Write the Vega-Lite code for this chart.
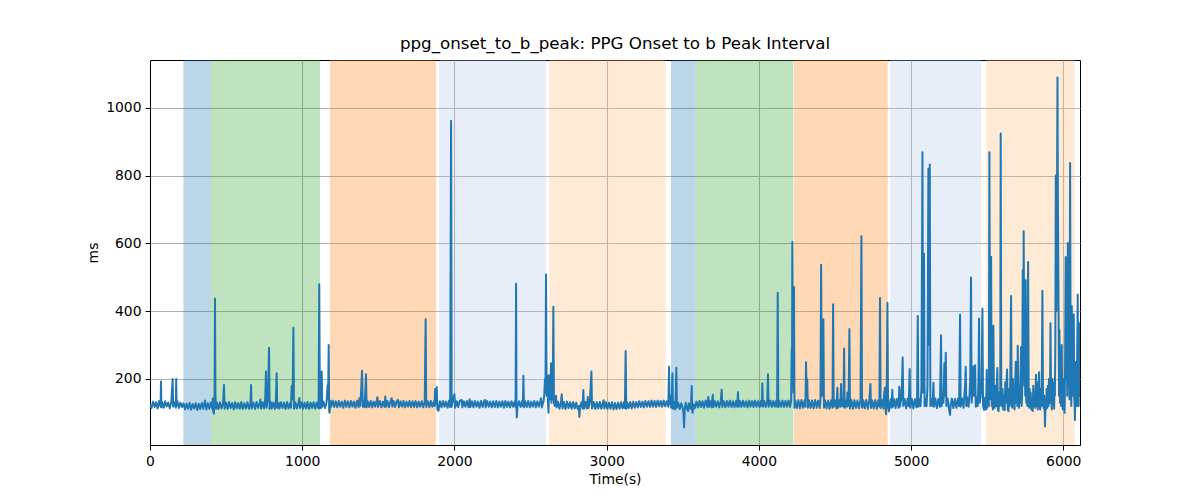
{
 "$schema": "https://vega.github.io/schema/vega-lite/v6.json",
 "width": 930,
 "height": 385,
 "autosize": {"type": "none"},
 "padding": {"left": 150, "top": 60, "right": 120, "bottom": 55},
 "title": {"text": "ppg_onset_to_b_peak: PPG Onset to b Peak Interval", "font": "DejaVu Sans", "fontSize": 16.7, "fontWeight": "normal", "color": "black", "anchor": "middle", "offset": 7},
 "config": {
  "view": {"stroke": "black", "strokeWidth": 1},
  "axis": {"domainColor": "black", "domainWidth": 1, "tickColor": "black", "tickSize": 5, "tickWidth": 1, "labelFont": "DejaVu Sans", "labelFontSize": 13.9, "labelColor": "black", "titleFont": "DejaVu Sans", "titleFontSize": 13.9, "titleFontWeight": "normal", "titleColor": "black", "gridColor": "#b0b0b0", "gridWidth": 1.1, "labelPadding": 4, "titlePadding": 5, "labelFlush": false}
 },
 "datasets": {
  "bands": [
   {"start": 219, "end": 401, "phase": "P1"},
   {"start": 401, "end": 1117, "phase": "P2"},
   {"start": 1183, "end": 1879, "phase": "P3"},
   {"start": 1899, "end": 2602, "phase": "P4"},
   {"start": 2622, "end": 3388, "phase": "P5"},
   {"start": 3423, "end": 3585, "phase": "P1"},
   {"start": 3585, "end": 4227, "phase": "P2"},
   {"start": 4231, "end": 4847, "phase": "P3"},
   {"start": 4862, "end": 5460, "phase": "P4"},
   {"start": 5493, "end": 6076, "phase": "P5"}
  ],
  "series": [
{"t":0,"v":126},{"t":10,"v":114},{"t":20,"v":133},{"t":30,"v":117},{"t":40,"v":131},{"t":50,"v":113},{"t":60,"v":135},{"t":70,"v":118},{"t":72,"v":192},{"t":75,"v":116},{"t":80,"v":132},{"t":90,"v":115},{"t":100,"v":134},{"t":110,"v":119},{"t":120,"v":130},{"t":130,"v":113},{"t":140,"v":133},{"t":149,"v":200},{"t":152,"v":118},{"t":160,"v":131},{"t":170,"v":115},{"t":172,"v":200},{"t":175,"v":121},{"t":180,"v":134},{"t":190,"v":114},{"t":200,"v":130},{"t":210,"v":117},
{"t":220,"v":128},{"t":230,"v":110},{"t":240,"v":127},{"t":250,"v":112},{"t":260,"v":129},{"t":270,"v":109},{"t":280,"v":126},{"t":290,"v":113},{"t":300,"v":128},{"t":310,"v":108},{"t":320,"v":127},{"t":330,"v":111},{"t":340,"v":129},{"t":350,"v":112},{"t":361,"v":136},{"t":370,"v":110},{"t":380,"v":128},{"t":390,"v":112},{"t":400,"v":130},
{"t":410,"v":111},{"t":412,"v":142},{"t":415,"v":105},{"t":420,"v":97},{"t":424,"v":150},{"t":427,"v":437},{"t":430,"v":150},{"t":435,"v":112},{"t":440,"v":130},{"t":450,"v":111},{"t":460,"v":131},{"t":470,"v":113},{"t":480,"v":128},{"t":486,"v":182},{"t":490,"v":112},{"t":500,"v":130},{"t":510,"v":111},{"t":520,"v":132},{"t":530,"v":114},{"t":540,"v":129},{"t":550,"v":110},{"t":560,"v":131},{"t":570,"v":113},{"t":580,"v":129},{"t":590,"v":112},{"t":600,"v":132},{"t":610,"v":111},{"t":620,"v":128},{"t":630,"v":113},{"t":640,"v":131},{"t":650,"v":112},{"t":660,"v":129},{"t":664,"v":182},{"t":668,"v":113},{"t":680,"v":130},{"t":690,"v":111},{"t":700,"v":132},{"t":710,"v":114},{"t":720,"v":129},{"t":725,"v":139},{"t":730,"v":112},{"t":740,"v":131},{"t":750,"v":113},{"t":757,"v":140},{"t":762,"v":222},{"t":766,"v":115},{"t":770,"v":130},{"t":775,"v":140},{"t":782,"v":292},{"t":786,"v":112},{"t":795,"v":131},{"t":800,"v":113},{"t":810,"v":130},{"t":820,"v":111},{"t":827,"v":135},{"t":832,"v":217},{"t":836,"v":114},{"t":845,"v":129},{"t":850,"v":112},{"t":860,"v":131},{"t":870,"v":114},{"t":880,"v":130},{"t":890,"v":111},{"t":900,"v":132},{"t":910,"v":113},{"t":920,"v":129},{"t":926,"v":115},{"t":931,"v":180},{"t":937,"v":140},{"t":942,"v":351},{"t":946,"v":112},{"t":955,"v":131},{"t":965,"v":113},{"t":975,"v":129},{"t":981,"v":144},{"t":985,"v":114},{"t":995,"v":131},{"t":1005,"v":112},{"t":1015,"v":130},{"t":1025,"v":113},{"t":1035,"v":132},{"t":1045,"v":111},{"t":1055,"v":130},{"t":1065,"v":114},{"t":1075,"v":131},{"t":1085,"v":112},{"t":1095,"v":130},{"t":1105,"v":114},{"t":1108,"v":140},{"t":1112,"v":479},{"t":1116,"v":113},{"t":1120,"v":130},{"t":1125,"v":115},{"t":1128,"v":222},{"t":1132,"v":118},
{"t":1140,"v":133},{"t":1150,"v":114},{"t":1160,"v":131},{"t":1164,"v":160},{"t":1167,"v":182},{"t":1170,"v":140},{"t":1174,"v":300},{"t":1177,"v":105},{"t":1180,"v":100},{"t":1185,"v":135},{"t":1190,"v":118},{"t":1200,"v":136},{"t":1210,"v":117},{"t":1220,"v":134},{"t":1230,"v":116},{"t":1240,"v":135},{"t":1250,"v":118},{"t":1260,"v":133},{"t":1270,"v":115},{"t":1280,"v":136},{"t":1290,"v":117},{"t":1300,"v":134},{"t":1310,"v":116},{"t":1320,"v":135},{"t":1330,"v":118},{"t":1340,"v":133},{"t":1350,"v":115},{"t":1360,"v":136},{"t":1370,"v":117},{"t":1376,"v":143},{"t":1380,"v":120},{"t":1385,"v":145},{"t":1393,"v":224},{"t":1398,"v":118},{"t":1405,"v":133},{"t":1410,"v":117},{"t":1419,"v":214},{"t":1423,"v":116},{"t":1430,"v":134},{"t":1440,"v":117},{"t":1450,"v":135},{"t":1460,"v":116},{"t":1470,"v":133},{"t":1480,"v":118},{"t":1494,"v":146},{"t":1498,"v":117},{"t":1510,"v":135},{"t":1520,"v":116},{"t":1530,"v":133},{"t":1540,"v":118},{"t":1546,"v":148},{"t":1550,"v":117},{"t":1560,"v":135},{"t":1570,"v":116},{"t":1580,"v":134},{"t":1588,"v":143},{"t":1592,"v":118},{"t":1600,"v":135},{"t":1610,"v":117},{"t":1620,"v":133},{"t":1628,"v":138},{"t":1635,"v":116},{"t":1645,"v":134},{"t":1655,"v":118},{"t":1665,"v":135},{"t":1675,"v":116},{"t":1685,"v":133},{"t":1695,"v":118},{"t":1705,"v":135},{"t":1715,"v":116},{"t":1725,"v":134},{"t":1735,"v":117},{"t":1745,"v":135},{"t":1755,"v":116},{"t":1765,"v":133},{"t":1775,"v":118},{"t":1785,"v":134},{"t":1795,"v":116},{"t":1805,"v":133},{"t":1811,"v":376},{"t":1815,"v":117},{"t":1825,"v":134},{"t":1835,"v":116},{"t":1845,"v":135},{"t":1855,"v":118},{"t":1865,"v":133},{"t":1870,"v":120},{"t":1873,"v":170},{"t":1877,"v":125},{"t":1884,"v":176},{"t":1888,"v":110},{"t":1895,"v":106},
{"t":1905,"v":134},{"t":1915,"v":116},{"t":1925,"v":135},{"t":1935,"v":118},{"t":1945,"v":133},{"t":1955,"v":115},{"t":1965,"v":136},{"t":1972,"v":117},{"t":1978,"v":962},{"t":1982,"v":118},{"t":1990,"v":136},{"t":2000,"v":155},{"t":2005,"v":115},{"t":2015,"v":134},{"t":2025,"v":117},{"t":2035,"v":135},{"t":2047,"v":138},{"t":2052,"v":116},{"t":2062,"v":134},{"t":2072,"v":118},{"t":2082,"v":135},{"t":2092,"v":116},{"t":2100,"v":140},{"t":2105,"v":117},{"t":2115,"v":134},{"t":2125,"v":116},{"t":2135,"v":135},{"t":2145,"v":118},{"t":2155,"v":133},{"t":2165,"v":115},{"t":2175,"v":135},{"t":2185,"v":117},{"t":2195,"v":134},{"t":2200,"v":138},{"t":2205,"v":116},{"t":2215,"v":135},{"t":2225,"v":118},{"t":2235,"v":133},{"t":2245,"v":116},{"t":2255,"v":134},{"t":2265,"v":117},{"t":2275,"v":135},{"t":2285,"v":116},{"t":2295,"v":133},{"t":2305,"v":118},{"t":2315,"v":134},{"t":2325,"v":115},{"t":2335,"v":135},{"t":2345,"v":117},{"t":2355,"v":133},{"t":2365,"v":116},{"t":2375,"v":134},{"t":2385,"v":118},{"t":2395,"v":133},{"t":2402,"v":116},{"t":2405,"v":481},{"t":2408,"v":120},{"t":2410,"v":86},{"t":2414,"v":118},{"t":2425,"v":134},{"t":2435,"v":117},{"t":2445,"v":135},{"t":2450,"v":120},{"t":2453,"v":209},{"t":2457,"v":116},{"t":2465,"v":134},{"t":2475,"v":117},{"t":2485,"v":135},{"t":2495,"v":116},{"t":2505,"v":133},{"t":2515,"v":118},{"t":2525,"v":135},{"t":2535,"v":116},{"t":2545,"v":134},{"t":2555,"v":118},{"t":2565,"v":135},{"t":2569,"v":143},{"t":2575,"v":116},{"t":2585,"v":134},{"t":2590,"v":150},{"t":2595,"v":200},{"t":2598,"v":160},{"t":2602,"v":508},{"t":2606,"v":150},{"t":2611,"v":211},{"t":2615,"v":130},{"t":2618,"v":100},{"t":2621,"v":150},{"t":2624,"v":211},{"t":2628,"v":140},{"t":2632,"v":180},{"t":2635,"v":246},{"t":2638,"v":130},{"t":2642,"v":180},{"t":2646,"v":140},{"t":2650,"v":413},{"t":2654,"v":130},{"t":2660,"v":120},{"t":2667,"v":150},{"t":2672,"v":116},
{"t":2680,"v":133},{"t":2690,"v":112},{"t":2700,"v":131},{"t":2705,"v":155},{"t":2710,"v":113},{"t":2720,"v":132},{"t":2730,"v":111},{"t":2740,"v":133},{"t":2750,"v":114},{"t":2760,"v":131},{"t":2770,"v":112},{"t":2780,"v":132},{"t":2790,"v":113},{"t":2800,"v":130},{"t":2810,"v":111},{"t":2818,"v":120},{"t":2821,"v":88},{"t":2825,"v":116},{"t":2835,"v":131},{"t":2842,"v":113},{"t":2847,"v":167},{"t":2851,"v":112},{"t":2860,"v":132},{"t":2870,"v":113},{"t":2876,"v":147},{"t":2880,"v":114},{"t":2890,"v":131},{"t":2900,"v":222},{"t":2904,"v":113},{"t":2915,"v":132},{"t":2925,"v":111},{"t":2935,"v":131},{"t":2945,"v":113},{"t":2955,"v":132},{"t":2965,"v":112},{"t":2975,"v":130},{"t":2980,"v":137},{"t":2985,"v":113},{"t":2995,"v":131},{"t":3005,"v":111},{"t":3015,"v":130},{"t":3025,"v":112},{"t":3035,"v":131},{"t":3045,"v":110},{"t":3055,"v":129},{"t":3065,"v":111},{"t":3075,"v":130},{"t":3085,"v":112},{"t":3095,"v":131},{"t":3105,"v":113},{"t":3115,"v":132},{"t":3120,"v":114},{"t":3125,"v":282},{"t":3129,"v":112},{"t":3135,"v":131},{"t":3145,"v":114},{"t":3155,"v":132},{"t":3165,"v":113},{"t":3175,"v":133},{"t":3185,"v":115},{"t":3195,"v":132},{"t":3205,"v":116},{"t":3215,"v":134},{"t":3225,"v":117},{"t":3235,"v":133},{"t":3245,"v":116},{"t":3255,"v":135},{"t":3265,"v":118},{"t":3275,"v":134},{"t":3285,"v":117},{"t":3295,"v":136},{"t":3305,"v":118},{"t":3315,"v":135},{"t":3325,"v":117},{"t":3335,"v":136},{"t":3345,"v":119},{"t":3355,"v":135},{"t":3365,"v":118},{"t":3375,"v":136},{"t":3385,"v":119},{"t":3395,"v":134},
{"t":3405,"v":118},{"t":3410,"v":236},{"t":3414,"v":125},{"t":3420,"v":150},{"t":3424,"v":115},{"t":3428,"v":140},{"t":3432,"v":217},{"t":3436,"v":112},{"t":3445,"v":132},{"t":3450,"v":110},{"t":3454,"v":150},{"t":3458,"v":233},{"t":3462,"v":115},{"t":3470,"v":130},{"t":3480,"v":111},{"t":3490,"v":128},{"t":3500,"v":113},{"t":3505,"v":100},{"t":3509,"v":57},{"t":3513,"v":110},{"t":3520,"v":130},{"t":3528,"v":112},{"t":3535,"v":105},{"t":3540,"v":128},{"t":3550,"v":112},{"t":3555,"v":130},{"t":3559,"v":179},{"t":3562,"v":110},{"t":3565,"v":100},{"t":3570,"v":125},{"t":3578,"v":113},
{"t":3590,"v":133},{"t":3600,"v":116},{"t":3610,"v":135},{"t":3620,"v":117},{"t":3630,"v":134},{"t":3640,"v":115},{"t":3650,"v":136},{"t":3660,"v":118},{"t":3668,"v":147},{"t":3672,"v":117},{"t":3680,"v":134},{"t":3690,"v":116},{"t":3697,"v":153},{"t":3701,"v":117},{"t":3710,"v":135},{"t":3720,"v":118},{"t":3730,"v":134},{"t":3740,"v":116},{"t":3750,"v":135},{"t":3756,"v":168},{"t":3760,"v":117},{"t":3770,"v":134},{"t":3780,"v":116},{"t":3790,"v":135},{"t":3800,"v":118},{"t":3810,"v":136},{"t":3820,"v":117},{"t":3830,"v":134},{"t":3840,"v":116},{"t":3850,"v":135},{"t":3858,"v":118},{"t":3863,"v":161},{"t":3867,"v":118},{"t":3875,"v":135},{"t":3885,"v":117},{"t":3895,"v":136},{"t":3905,"v":118},{"t":3915,"v":134},{"t":3925,"v":116},{"t":3935,"v":136},{"t":3945,"v":118},{"t":3955,"v":135},{"t":3965,"v":117},{"t":3975,"v":136},{"t":3985,"v":118},{"t":3995,"v":134},{"t":4005,"v":117},{"t":4015,"v":136},{"t":4020,"v":120},{"t":4023,"v":187},{"t":4027,"v":118},{"t":4035,"v":135},{"t":4045,"v":117},{"t":4055,"v":134},{"t":4060,"v":214},{"t":4064,"v":118},{"t":4075,"v":136},{"t":4085,"v":117},{"t":4095,"v":135},{"t":4105,"v":118},{"t":4115,"v":136},{"t":4120,"v":118},{"t":4124,"v":454},{"t":4128,"v":117},{"t":4135,"v":135},{"t":4145,"v":118},{"t":4155,"v":136},{"t":4165,"v":117},{"t":4175,"v":135},{"t":4185,"v":118},{"t":4195,"v":136},{"t":4205,"v":117},{"t":4212,"v":135},{"t":4216,"v":290},{"t":4218,"v":200},{"t":4220,"v":604},{"t":4224,"v":300},{"t":4227,"v":160},{"t":4231,"v":471},{"t":4234,"v":115},
{"t":4240,"v":136},{"t":4250,"v":114},{"t":4260,"v":137},{"t":4270,"v":113},{"t":4280,"v":138},{"t":4290,"v":115},{"t":4300,"v":136},{"t":4306,"v":118},{"t":4310,"v":249},{"t":4314,"v":150},{"t":4318,"v":200},{"t":4322,"v":115},{"t":4330,"v":137},{"t":4340,"v":114},{"t":4350,"v":136},{"t":4360,"v":113},{"t":4370,"v":138},{"t":4380,"v":115},{"t":4390,"v":136},{"t":4400,"v":114},{"t":4405,"v":140},{"t":4409,"v":537},{"t":4413,"v":200},{"t":4418,"v":150},{"t":4424,"v":376},{"t":4428,"v":115},{"t":4435,"v":137},{"t":4445,"v":113},{"t":4455,"v":136},{"t":4465,"v":112},{"t":4475,"v":137},{"t":4484,"v":115},{"t":4488,"v":420},{"t":4492,"v":118},{"t":4500,"v":136},{"t":4510,"v":113},{"t":4516,"v":174},{"t":4520,"v":115},{"t":4530,"v":137},{"t":4536,"v":118},{"t":4540,"v":185},{"t":4544,"v":120},{"t":4550,"v":137},{"t":4556,"v":118},{"t":4560,"v":290},{"t":4564,"v":115},{"t":4572,"v":137},{"t":4578,"v":118},{"t":4582,"v":160},{"t":4586,"v":120},{"t":4590,"v":140},{"t":4595,"v":347},{"t":4599,"v":113},{"t":4608,"v":138},{"t":4618,"v":112},{"t":4628,"v":137},{"t":4638,"v":114},{"t":4648,"v":136},{"t":4658,"v":113},{"t":4668,"v":138},{"t":4674,"v":621},{"t":4678,"v":115},{"t":4686,"v":137},{"t":4696,"v":113},{"t":4706,"v":138},{"t":4716,"v":112},{"t":4726,"v":137},{"t":4733,"v":185},{"t":4737,"v":114},{"t":4745,"v":136},{"t":4755,"v":113},{"t":4765,"v":138},{"t":4775,"v":112},{"t":4785,"v":137},{"t":4792,"v":118},{"t":4796,"v":439},{"t":4800,"v":114},{"t":4810,"v":137},{"t":4818,"v":113},{"t":4822,"v":150},{"t":4829,"v":175},{"t":4833,"v":110},{"t":4836,"v":96},{"t":4840,"v":150},{"t":4845,"v":425},{"t":4849,"v":120},{"t":4855,"v":104},
{"t":4866,"v":140},{"t":4872,"v":115},{"t":4877,"v":168},{"t":4881,"v":118},{"t":4890,"v":140},{"t":4898,"v":114},{"t":4908,"v":141},{"t":4918,"v":115},{"t":4923,"v":177},{"t":4927,"v":118},{"t":4935,"v":140},{"t":4940,"v":180},{"t":4945,"v":263},{"t":4949,"v":120},{"t":4958,"v":141},{"t":4968,"v":113},{"t":4978,"v":142},{"t":4985,"v":120},{"t":4991,"v":229},{"t":4995,"v":115},{"t":5005,"v":141},{"t":5015,"v":113},{"t":5025,"v":140},{"t":5035,"v":116},{"t":5040,"v":150},{"t":5044,"v":386},{"t":5048,"v":118},{"t":5055,"v":140},{"t":5062,"v":120},{"t":5068,"v":170},{"t":5075,"v":869},{"t":5079,"v":160},{"t":5085,"v":570},{"t":5089,"v":120},{"t":5095,"v":140},{"t":5102,"v":120},{"t":5108,"v":180},{"t":5114,"v":820},{"t":5117,"v":300},{"t":5123,"v":833},{"t":5127,"v":120},{"t":5135,"v":140},{"t":5142,"v":120},{"t":5147,"v":189},{"t":5151,"v":118},{"t":5160,"v":142},{"t":5170,"v":114},{"t":5180,"v":141},{"t":5190,"v":118},{"t":5197,"v":329},{"t":5201,"v":120},{"t":5208,"v":160},{"t":5213,"v":130},{"t":5219,"v":246},{"t":5223,"v":150},{"t":5228,"v":277},{"t":5232,"v":120},{"t":5240,"v":142},{"t":5248,"v":116},{"t":5256,"v":94},{"t":5260,"v":120},{"t":5268,"v":142},{"t":5278,"v":114},{"t":5288,"v":141},{"t":5298,"v":115},{"t":5308,"v":142},{"t":5316,"v":120},{"t":5322,"v":390},{"t":5326,"v":118},{"t":5335,"v":142},{"t":5345,"v":115},{"t":5350,"v":150},{"t":5355,"v":180},{"t":5359,"v":236},{"t":5363,"v":120},{"t":5370,"v":145},{"t":5378,"v":118},{"t":5384,"v":150},{"t":5389,"v":200},{"t":5394,"v":499},{"t":5398,"v":130},{"t":5403,"v":160},{"t":5410,"v":237},{"t":5414,"v":150},{"t":5421,"v":240},{"t":5425,"v":118},{"t":5432,"v":145},{"t":5438,"v":120},{"t":5443,"v":200},{"t":5447,"v":378},{"t":5451,"v":130},{"t":5458,"v":150},{"t":5464,"v":200},{"t":5469,"v":408},{"t":5473,"v":120},{"t":5480,"v":108},
{"t":5487,"v":145},{"t":5493,"v":110},{"t":5497,"v":226},{"t":5501,"v":115},{"t":5507,"v":170},{"t":5511,"v":120},{"t":5515,"v":869},{"t":5519,"v":200},{"t":5523,"v":140},{"t":5526,"v":560},{"t":5530,"v":120},{"t":5534,"v":180},{"t":5538,"v":110},{"t":5541,"v":357},{"t":5545,"v":120},{"t":5550,"v":115},{"t":5555,"v":180},{"t":5560,"v":120},{"t":5564,"v":190},{"t":5567,"v":232},{"t":5571,"v":110},{"t":5575,"v":105},{"t":5579,"v":160},{"t":5582,"v":120},{"t":5586,"v":150},{"t":5589,"v":924},{"t":5593,"v":130},{"t":5597,"v":120},{"t":5601,"v":170},{"t":5605,"v":110},{"t":5610,"v":150},{"t":5615,"v":108},{"t":5619,"v":190},{"t":5622,"v":130},{"t":5626,"v":180},{"t":5631,"v":228},{"t":5635,"v":110},{"t":5640,"v":105},{"t":5644,"v":170},{"t":5648,"v":120},{"t":5652,"v":190},{"t":5657,"v":445},{"t":5661,"v":130},{"t":5665,"v":115},{"t":5669,"v":200},{"t":5672,"v":130},{"t":5676,"v":160},{"t":5680,"v":110},{"t":5684,"v":190},{"t":5688,"v":251},{"t":5691,"v":130},{"t":5694,"v":170},{"t":5698,"v":120},{"t":5701,"v":298},{"t":5705,"v":140},{"t":5710,"v":115},{"t":5713,"v":180},{"t":5716,"v":130},{"t":5719,"v":210},{"t":5723,"v":294},{"t":5727,"v":120},{"t":5730,"v":160},{"t":5734,"v":521},{"t":5737,"v":200},{"t":5740,"v":636},{"t":5744,"v":180},{"t":5747,"v":300},{"t":5750,"v":150},{"t":5753,"v":491},{"t":5757,"v":130},{"t":5760,"v":200},{"t":5764,"v":120},{"t":5769,"v":545},{"t":5773,"v":140},{"t":5776,"v":115},{"t":5779,"v":170},{"t":5782,"v":130},{"t":5786,"v":160},{"t":5790,"v":110},{"t":5795,"v":140},{"t":5799,"v":105},{"t":5803,"v":180},{"t":5807,"v":120},{"t":5810,"v":150},{"t":5815,"v":115},{"t":5821,"v":212},{"t":5825,"v":120},{"t":5828,"v":160},{"t":5832,"v":110},{"t":5835,"v":190},{"t":5838,"v":140},{"t":5841,"v":220},{"t":5845,"v":120},{"t":5848,"v":110},{"t":5852,"v":170},{"t":5856,"v":120},{"t":5859,"v":180},{"t":5863,"v":460},{"t":5867,"v":140},{"t":5870,"v":115},{"t":5875,"v":150},{"t":5878,"v":100},{"t":5880,"v":60},{"t":5884,"v":140},{"t":5887,"v":110},{"t":5891,"v":170},{"t":5895,"v":115},{"t":5899,"v":180},{"t":5903,"v":120},{"t":5906,"v":200},{"t":5910,"v":130},{"t":5913,"v":150},{"t":5916,"v":364},{"t":5920,"v":140},{"t":5925,"v":110},{"t":5929,"v":200},{"t":5932,"v":130},{"t":5936,"v":170},{"t":5940,"v":112},{"t":5943,"v":190},{"t":5945,"v":150},{"t":5948,"v":300},{"t":5951,"v":800},{"t":5955,"v":400},{"t":5958,"v":600},{"t":5962,"v":1089},{"t":5965,"v":700},{"t":5968,"v":500},{"t":5972,"v":150},{"t":5975,"v":344},{"t":5979,"v":130},{"t":5982,"v":180},{"t":5986,"v":120},{"t":5990,"v":300},{"t":5993,"v":150},{"t":5997,"v":110},{"t":6000,"v":200},{"t":6003,"v":140},{"t":6006,"v":190},{"t":6009,"v":100},{"t":6012,"v":250},{"t":6016,"v":560},{"t":6019,"v":200},{"t":6023,"v":300},{"t":6026,"v":150},{"t":6030,"v":601},{"t":6033,"v":200},{"t":6037,"v":250},{"t":6041,"v":140},{"t":6045,"v":837},{"t":6048,"v":300},{"t":6050,"v":200},{"t":6053,"v":120},{"t":6056,"v":415},{"t":6059,"v":180},{"t":6063,"v":150},{"t":6066,"v":250},{"t":6069,"v":390},{"t":6072,"v":150},{"t":6075,"v":120},{"t":6077,"v":79},{"t":6080,"v":250},{"t":6083,"v":150},{"t":6086,"v":200},{"t":6089,"v":120},{"t":6092,"v":300},{"t":6095,"v":449},{"t":6098,"v":200},{"t":6101,"v":120},{"t":6104,"v":250},{"t":6106,"v":364},{"t":6108,"v":150},{"t":6110,"v":200}
  ]
 },
 "layer": [
  {
   "data": {"name": "bands"},
   "mark": {"type": "rect", "opacity": 0.3},
   "encoding": {
    "x": {"field": "start", "type": "quantitative", "scale": {"domain": [0, 6110], "nice": false, "zero": false}, "axis": {"title": "Time(s)", "values": [0, 1000, 2000, 3000, 4000, 5000, 6000], "format": "d", "grid": true}},
    "x2": {"field": "end"},
    "color": {"field": "phase", "type": "nominal", "scale": {"domain": ["P1", "P2", "P3", "P4", "P5"], "range": ["#1f77b4", "#2ca02c", "#ff7f0e", "#aec7e8", "#ffbb78"]}, "legend": null}
   }
  },
  {
   "data": {"name": "series"},
   "mark": {"type": "line", "color": "#1f77b4", "strokeWidth": 2, "strokeJoin": "round", "clip": true},
   "encoding": {
    "x": {"field": "t", "type": "quantitative", "title": "Time(s)"},
    "y": {"field": "v", "type": "quantitative", "scale": {"domain": [5, 1141], "nice": false, "zero": false}, "axis": {"title": "ms", "values": [200, 400, 600, 800, 1000], "format": "d", "grid": true}}
   }
  }
 ]
}
